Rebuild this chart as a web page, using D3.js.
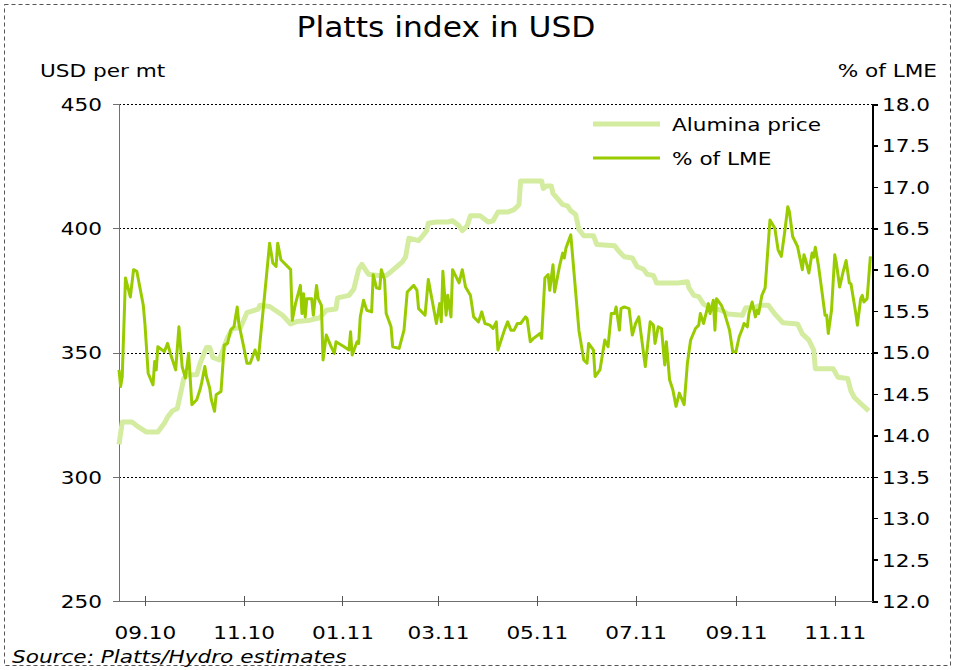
<!DOCTYPE html>
<html>
<head>
<meta charset="utf-8">
<style>
  body { margin: 0; background: #fff; }
  svg text { font-family: "DejaVu Sans", Verdana, sans-serif; fill: #000; }
</style>
</head>
<body>
<svg width="955" height="670"></svg>
<script src="https://d3js.org/d3.v7.min.js"></script>
<script>
// ---- data ----
var leftTicks = [250, 300, 350, 400, 450];
var rightTicks = [12.0, 12.5, 13.0, 13.5, 14.0, 14.5, 15.0, 15.5, 16.0, 16.5, 17.0, 17.5, 18.0];
var xTicks = ["2010-09-01", "2010-11-01", "2011-01-01", "2011-03-01", "2011-05-01", "2011-07-01", "2011-09-01", "2011-11-01"];
var xDomain = ["2010-08-16", "2011-11-24"];

// Alumina price, USD per mt (left axis)
var aluminaDates = [
  "2010-08-16","2010-08-18","2010-08-24","2010-08-27",
  "2010-09-02","2010-09-09","2010-09-13","2010-09-15","2010-09-18","2010-09-21","2010-09-25","2010-09-27",
  "2010-10-03","2010-10-05","2010-10-09","2010-10-11","2010-10-13","2010-10-17","2010-10-22","2010-10-25","2010-10-30",
  "2010-11-03","2010-11-10","2010-11-11","2010-11-17","2010-11-25","2010-11-30",
  "2010-12-04","2010-12-12","2010-12-18","2010-12-22","2010-12-28","2010-12-29",
  "2011-01-05","2011-01-08","2011-01-11","2011-01-13","2011-01-17","2011-01-23","2011-01-28","2011-01-31",
  "2011-02-07","2011-02-09","2011-02-11","2011-02-17","2011-02-19","2011-02-22","2011-02-23","2011-02-28",
  "2011-03-07","2011-03-10","2011-03-14","2011-03-16","2011-03-19","2011-03-21","2011-03-27","2011-03-31",
  "2011-04-01","2011-04-04","2011-04-07","2011-04-13","2011-04-17","2011-04-20","2011-04-21",
  "2011-05-04","2011-05-05","2011-05-07","2011-05-10","2011-05-11","2011-05-17","2011-05-20","2011-05-22","2011-05-25","2011-05-27","2011-05-30",
  "2011-06-05","2011-06-07","2011-06-18","2011-06-21","2011-06-24","2011-06-29",
  "2011-07-02","2011-07-06","2011-07-08","2011-07-12","2011-07-14","2011-07-27",
  "2011-08-02","2011-08-03","2011-08-06","2011-08-09","2011-08-12","2011-08-16","2011-08-23","2011-08-27",
  "2011-09-05","2011-09-07","2011-09-12","2011-09-16","2011-09-21","2011-09-25","2011-09-30",
  "2011-10-09","2011-10-12","2011-10-16","2011-10-19","2011-10-20","2011-10-31",
  "2011-11-03","2011-11-09","2011-11-11","2011-11-13","2011-11-17","2011-11-22"
];
var aluminaValues = [
  313, 322, 322, 320.5,
  318, 318, 321.5, 324, 326.5, 327.5, 339.5, 341,
  341, 345.5, 352, 352, 348, 347, 356, 359.5, 360,
  366, 367.5, 369, 368.5, 365, 361.5,
  362.5, 363, 364, 367, 367.5, 372,
  373, 375.5, 383.5, 385.5, 381.5, 381, 381, 382.5,
  386.5, 388.5, 396, 395, 396.5, 399, 402, 402.5,
  402.5, 403, 401, 399, 401, 405, 405, 403,
  402.5, 403, 406.5, 406.5, 407.5, 409.5, 419,
  419, 416, 417, 417, 414, 409.5, 409, 407, 405.5, 399.5, 397,
  397, 393.5, 393, 390.5, 388.5, 388,
  384.5, 383.5, 381.5, 381, 378, 378,
  378.5, 376, 373, 372.5, 369.5, 368, 367, 365.5,
  365, 368, 368, 369, 369, 365.5, 362,
  361.5, 357.5, 355, 351, 343.5, 343.5,
  340, 339.5, 334.5, 332, 329.5, 326.5
];

// Alumina price as % of LME (right axis)
var lmeDates = [
  "2010-08-16","2010-08-17","2010-08-18","2010-08-20","2010-08-23","2010-08-25","2010-08-27","2010-08-31",
  "2010-09-01","2010-09-03","2010-09-06","2010-09-07","2010-09-08","2010-09-09","2010-09-13","2010-09-15","2010-09-17","2010-09-20","2010-09-22","2010-09-24","2010-09-26","2010-09-28","2010-09-30",
  "2010-10-03","2010-10-05","2010-10-06","2010-10-08","2010-10-09","2010-10-11","2010-10-12","2010-10-14","2010-10-15","2010-10-18","2010-10-20","2010-10-22","2010-10-24","2010-10-26","2010-10-28","2010-10-29",
  "2010-11-01","2010-11-03","2010-11-05","2010-11-08","2010-11-10","2010-11-13","2010-11-15","2010-11-17","2010-11-19","2010-11-21","2010-11-22","2010-11-24","2010-11-30",
  "2010-12-01","2010-12-03","2010-12-06","2010-12-07","2010-12-08","2010-12-09","2010-12-10","2010-12-13","2010-12-14","2010-12-16","2010-12-17","2010-12-19","2010-12-20","2010-12-22","2010-12-25","2010-12-27","2010-12-28",
  "2011-01-02","2011-01-05","2011-01-06","2011-01-07","2011-01-10","2011-01-11","2011-01-12","2011-01-14","2011-01-16","2011-01-19","2011-01-20","2011-01-22","2011-01-24","2011-01-25","2011-01-27","2011-01-28","2011-01-31",
  "2011-02-01","2011-02-05","2011-02-08","2011-02-10","2011-02-14","2011-02-16","2011-02-17","2011-02-21","2011-02-23","2011-02-25","2011-02-28",
  "2011-03-02","2011-03-03","2011-03-04","2011-03-06","2011-03-07","2011-03-09","2011-03-10","2011-03-14","2011-03-16","2011-03-18","2011-03-21","2011-03-23","2011-03-26","2011-03-28","2011-03-30",
  "2011-04-02","2011-04-04","2011-04-06","2011-04-07","2011-04-11","2011-04-13","2011-04-15","2011-04-17","2011-04-19","2011-04-21","2011-04-24","2011-04-25","2011-04-27","2011-04-29",
  "2011-05-03","2011-05-04","2011-05-06","2011-05-08","2011-05-09","2011-05-11","2011-05-12","2011-05-15","2011-05-17","2011-05-18","2011-05-19","2011-05-22","2011-05-27","2011-05-30",
  "2011-06-01","2011-06-02","2011-06-05","2011-06-06","2011-06-09","2011-06-12","2011-06-14","2011-06-16","2011-06-18","2011-06-19","2011-06-21","2011-06-22","2011-06-24","2011-06-27","2011-06-29",
  "2011-07-01","2011-07-03","2011-07-07","2011-07-10","2011-07-12","2011-07-13","2011-07-15","2011-07-17","2011-07-19","2011-07-20","2011-07-22","2011-07-24","2011-07-26","2011-07-28","2011-07-31",
  "2011-08-02","2011-08-04","2011-08-07","2011-08-09","2011-08-10","2011-08-12","2011-08-15","2011-08-16","2011-08-18","2011-08-19","2011-08-20","2011-08-23","2011-08-25","2011-08-28","2011-08-30",
  "2011-09-01","2011-09-03","2011-09-05","2011-09-06","2011-09-08","2011-09-09","2011-09-11","2011-09-13","2011-09-14","2011-09-15","2011-09-17","2011-09-19","2011-09-22","2011-09-25","2011-09-27","2011-09-29",
  "2011-10-01","2011-10-03","2011-10-04","2011-10-06","2011-10-09","2011-10-12","2011-10-13","2011-10-14","2011-10-16","2011-10-18","2011-10-19","2011-10-20","2011-10-22","2011-10-24","2011-10-26","2011-10-27","2011-10-28","2011-10-30",
  "2011-11-01","2011-11-02","2011-11-04","2011-11-06","2011-11-08","2011-11-10","2011-11-11","2011-11-14","2011-11-15","2011-11-17","2011-11-18","2011-11-19","2011-11-21","2011-11-23"
];
var lmeValues = [
  14.79, 14.59, 14.71, 15.90, 15.67, 16.00, 15.98, 15.57,
  15.35, 14.75, 14.61, 14.89, 14.79, 15.07, 15.01, 15.11, 14.97, 14.79, 15.31, 14.83, 14.69, 14.99, 14.37,
  14.43, 14.55, 14.63, 14.83, 14.71, 14.57, 14.43, 14.29, 14.49, 14.53, 15.09, 15.11, 15.27, 15.31, 15.55, 15.35,
  15.07, 14.87, 14.87, 15.03, 14.91, 15.51, 15.91, 16.32, 16.08, 16.04, 16.32, 16.12, 16.00,
  15.39, 15.59, 15.81, 15.47, 15.71, 15.43, 15.65, 15.65, 15.45, 15.81, 15.65, 15.57, 14.91, 15.21, 15.07, 14.99, 15.13,
  15.07, 15.03, 15.25, 14.97, 15.13, 15.11, 15.43, 15.63, 15.51, 15.49, 15.94, 15.78, 15.77, 16.00, 15.88, 15.47, 15.31,
  15.07, 15.05, 15.27, 15.73, 15.81, 15.75, 15.53, 15.45, 15.88, 15.67, 15.35,
  15.59, 15.37, 15.98, 15.45, 15.69, 15.43, 16.00, 15.84, 16.00, 15.79, 15.69, 15.43, 15.37, 15.49, 15.35,
  15.33, 15.29, 15.37, 15.03, 15.27, 15.37, 15.27, 15.27, 15.35, 15.35, 15.43, 15.41, 15.13, 15.17,
  15.23, 15.17, 15.90, 15.94, 15.75, 16.06, 15.73, 16.04, 16.20, 16.14, 16.26, 16.42, 15.27, 14.91,
  14.87, 15.11, 15.03, 14.71, 14.79, 15.15, 15.07, 15.47, 15.47, 15.55, 15.27, 15.53, 15.55, 15.53, 15.21,
  15.35, 15.43, 14.83, 15.37, 15.33, 15.11, 15.31, 15.29, 14.85, 15.13, 14.67, 14.55, 14.35, 14.51, 14.37,
  14.87, 15.15, 15.29, 15.33, 15.47, 15.35, 15.59, 15.47, 15.63, 15.27, 15.65, 15.57, 15.47, 15.27, 15.01,
  15.01, 15.19, 15.29, 15.35, 15.31, 15.47, 15.61, 15.43, 15.51, 15.47, 15.69, 15.78, 16.60, 16.50, 16.24, 16.16,
  16.44, 16.76, 16.70, 16.40, 16.28, 16.00, 16.18, 16.12, 15.96, 16.20, 16.15, 16.27, 16.04, 15.75, 15.45, 15.45, 15.23, 15.51,
  16.18, 16.08, 15.79, 15.96, 16.11, 15.84, 15.83, 15.47, 15.33, 15.65, 15.69, 15.61, 15.65, 16.16
];

var seriesNames = ["Alumina price", "% of LME"];
var seriesColors = ["#d4eca0", "#99cc00"];

// ---- chart ----
var svg = d3.select("svg");
var margin = {top: 104, right: 83, bottom: 69, left: 119},
    width = +svg.attr("width") - margin.left - margin.right,
    height = +svg.attr("height") - margin.top - margin.bottom;

var parse = d3.timeParse("%Y-%m-%d");
var stretch = 1.2; // text in the source is drawn a bit wide

// dashed frame around the whole picture
svg.append("rect")
  .attr("x", 4.5).attr("y", 4.5)
  .attr("width", 946).attr("height", 661)
  .attr("fill", "none")
  .attr("stroke", "#555")
  .attr("stroke-dasharray", "4,3");

svg.append("text")
  .attr("transform", "translate(446,37) scale(1.12,1)")
  .attr("text-anchor", "middle")
  .style("font-size", "28px")
  .text("Platts index in USD");

svg.append("text")
  .attr("transform", "translate(40,77) scale(" + stretch + ",1)")
  .style("font-size", "18px")
  .text("USD per mt");

svg.append("text")
  .attr("transform", "translate(937,77) scale(" + stretch + ",1)")
  .attr("text-anchor", "end")
  .style("font-size", "18px")
  .text("% of LME");

svg.append("text")
  .attr("transform", "translate(12,663) scale(" + stretch + ",1)")
  .style("font-size", "18px")
  .style("font-style", "italic")
  .text("Source: Platts/Hydro estimates");

var g = svg.append("g")
  .attr("transform", "translate(" + margin.left + "," + margin.top + ")");

var x = d3.scaleTime()
  .domain(xDomain.map(parse))
  .range([0, width]);

var yL = d3.scaleLinear().domain([250, 450]).range([height, 0]);
var yR = d3.scaleLinear().domain([12, 18]).range([height, 0]);

// dotted gridlines
g.selectAll(".grid")
  .data(leftTicks.filter(function (d) { return d > 250; }))
  .enter().append("line")
  .attr("class", "grid")
  .attr("x1", 0).attr("x2", width)
  .attr("y1", function (d) { return Math.round(yL(d)) + 0.5; })
  .attr("y2", function (d) { return Math.round(yL(d)) + 0.5; })
  .attr("stroke", "#000")
  .attr("stroke-width", 1)
  .attr("stroke-dasharray", "2,2");

// left axis
var axL = g.append("g")
  .call(d3.axisLeft(yL).tickValues(leftTicks).tickSizeOuter(0).tickSize(6).tickFormat(d3.format("d")));
axL.select(".domain").attr("stroke", "#707070");
axL.selectAll(".tick line").attr("stroke", "#707070");
axL.selectAll(".tick text")
  .attr("x", null).attr("dy", "0.36em")
  .attr("transform", "translate(-17,0) scale(" + stretch + ",1)")
  .style("font-size", "18px");

// right axis
var axR = g.append("g")
  .attr("transform", "translate(" + width + ",0)")
  .call(d3.axisRight(yR).tickValues(rightTicks).tickSizeOuter(0).tickSize(6).tickFormat(d3.format(".1f")));
axR.select(".domain").attr("stroke", "#000").attr("stroke-width", 2);
axR.selectAll(".tick line").attr("stroke", "#000").attr("stroke-width", 1.5);
axR.selectAll(".tick text")
  .attr("x", null).attr("dy", "0.36em")
  .attr("transform", "translate(10,0) scale(" + stretch + ",1)")
  .style("font-size", "18px");

// bottom axis, ticks crossing the line
var axB = g.append("g")
  .attr("transform", "translate(0," + height + ")")
  .call(d3.axisBottom(x).tickValues(xTicks.map(parse)).tickSizeOuter(0).tickFormat(d3.timeFormat("%m.%y")));
axB.select(".domain").attr("stroke", "#707070");
axB.selectAll(".tick line").attr("stroke", "#555").attr("y1", -5).attr("y2", 5);
axB.selectAll(".tick text")
  .attr("y", null).attr("dy", null)
  .attr("transform", "translate(0,38) scale(" + stretch + ",1)")
  .style("font-size", "18px");

g.selectAll(".domain, .tick line").attr("shape-rendering", "crispEdges");

// lines
var alumina = aluminaDates.map(function (d, i) { return {date: parse(d), value: aluminaValues[i]}; });
var lme = lmeDates.map(function (d, i) { return {date: parse(d), value: lmeValues[i]}; });

var lineL = d3.line()
  .x(function (d) { return x(d.date); })
  .y(function (d) { return yL(d.value); });
var lineR = d3.line()
  .x(function (d) { return x(d.date); })
  .y(function (d) { return yR(d.value); });

g.append("path")
  .datum(alumina)
  .attr("fill", "none")
  .attr("stroke", seriesColors[0])
  .attr("stroke-width", 5)
  .attr("stroke-linejoin", "round")
  .attr("d", lineL);

g.append("path")
  .datum(lme)
  .attr("fill", "none")
  .attr("stroke", seriesColors[1])
  .attr("stroke-width", 3)
  .attr("stroke-linejoin", "round")
  .attr("d", lineR);

// legend
var legend = svg.append("g").attr("transform", "translate(593,124)");
seriesNames.forEach(function (name, i) {
  var row = legend.append("g").attr("transform", "translate(0," + (i * 34) + ")");
  row.append("line")
    .attr("x1", 0).attr("x2", 67)
    .attr("stroke", seriesColors[i])
    .attr("stroke-width", i === 0 ? 5 : 3);
  row.append("text")
    .attr("transform", "translate(79,7) scale(" + stretch + ",1)")
    .style("font-size", "18px")
    .text(name);
});
</script>
</body>
</html>
